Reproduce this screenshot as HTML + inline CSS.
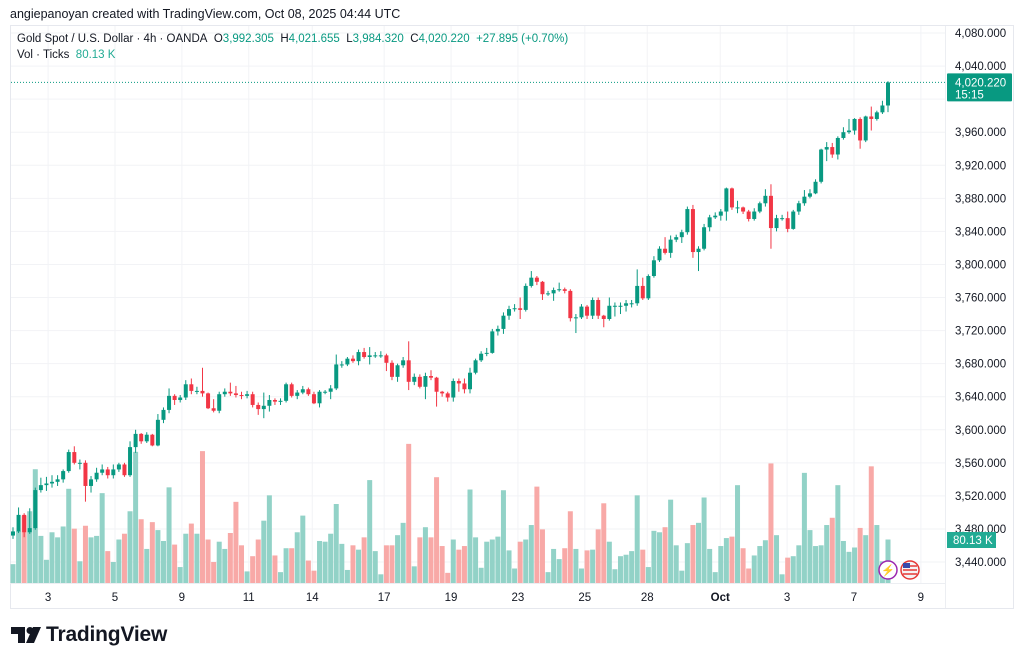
<!DOCTYPE html>
<html><head><meta charset="utf-8">
<style>
body{margin:0;background:#fff;width:1024px;height:665px;overflow:hidden;font-family:"Liberation Sans",sans-serif;}
#wrap{position:relative;width:1024px;height:665px;}
.t{position:absolute;white-space:nowrap;}
</style></head>
<body>
<div id="wrap">
<div class="t" style="left:10px;top:7px;font-size:12.5px;color:#131722;">angiepanoyan created with TradingView.com, Oct 08, 2025 04:44 UTC</div>
<svg id="chart" width="1024" height="665" style="position:absolute;left:0;top:0"></svg>
<div class="t" style="left:17px;top:33px;font-size:11.5px;color:#131722;">Gold Spot / U.S. Dollar · 4h · OANDA&nbsp; O<span style="color:#089981">3,992.305</span>&nbsp; H<span style="color:#089981">4,021.655</span>&nbsp; L<span style="color:#089981">3,984.320</span>&nbsp; C<span style="color:#089981">4,020.220</span>&nbsp; <span style="color:#089981">+27.895 (+0.70%)</span></div>
<div class="t" style="left:17px;top:49px;font-size:11.5px;color:#131722;">Vol · Ticks&nbsp; <span style="color:#22ab94">80.13 K</span></div>
<svg width="30" height="20" style="position:absolute;left:11px;top:627px">
<path d="M0 0 H14 V16 H7 V7 H0 Z" fill="#131722"/>
<circle cx="19" cy="3.5" r="3.5" fill="#131722"/>
<path d="M22 0 H30 L23 16 H15 Z" fill="#131722"/>
</svg>
<div class="t" style="left:46px;top:623px;font-size:21px;font-weight:bold;color:#131722;letter-spacing:-0.2px;">TradingView</div>
</div>
<script>
const closes=[3477,3497,3476,3481,3527,3533,3535,3537,3540,3550,3573,3560,3560,3532,3540,3548,3552,3545,3552,3558,3545,3579,3595,3586,3594,3581,3612,3624,3641,3636,3639,3655,3647,3647,3644,3626,3623,3643,3646,3644,3642,3641,3643,3630,3625,3629,3636,3634,3635,3655,3641,3645,3649,3643,3632,3646,3646,3650,3679,3679,3686,
3683,3694,3688,3690,3690,3690,3681,3664,3678,3684,3658,3664,3652,3665,3663,3646,3644,3639,3659,3656,3649,3669,3684,3692,3693,3719,3722,3738,3746,3747,3745,3774,3784,3779,3764,3765,3769,3770,3768,3735,3736,3749,3738,3757,3738,3734,3750,3750,3750,3753,3753,3774,3759,3786,3805,3819,3814,3830,3833,3839,3867,
3815,3819,3845,3857,3859,3864,3892,3869,3869,3864,3855,3864,3874,3883,3844,3856,3856,3843,3864,3874,3882,3886,3900,3939,3942,3933,3953,3960,3962,3976,3950,3979,3976,3984,3992.305,4020.22];
const firstOpen=3472;
const highs=[3482,3506,3499,3505,3530,3542,3543,3545,3545,3552,3576,3580,3564,3563,3544,3554,3558,3555,3558,3560,3560,3586,3600,3596,3597,3595,3619,3627,3650,3643,3642,3660,3662,3652,3675,3645,3637,3646,3650,3657,3653,3646,3647,3646,3633,3645,3642,3638,3638,3657,3657,3648,3653,3651,3646,3648,3648,3654,3691,3683,3688,
3690,3697,3699,3700,3694,3695,3692,3684,3680,3688,3707,3668,3667,3669,3672,3664,3647,3646,3662,3662,3662,3675,3686,3695,3699,3722,3726,3742,3750,3752,3760,3777,3792,3786,3780,3768,3772,3778,3772,3770,3740,3752,3751,3760,3760,3739,3760,3754,3754,3757,3757,3794,3784,3788,3810,3822,3833,3835,3836,3842,3870,
3872,3822,3849,3860,3863,3867,3893,3893,3877,3870,3866,3868,3876,3891,3897,3860,3860,3864,3866,3877,3890,3891,3903,3940,3948,3947,3955,3966,3976,3977,3978,3980,3991,3986,3998,4021.655];
const lows=[3468,3475,3470,3474,3479,3524,3526,3530,3532,3536,3548,3558,3552,3513,3524,3537,3545,3541,3541,3549,3543,3543,3572,3583,3584,3580,3580,3608,3620,3630,3633,3636,3643,3643,3640,3625,3621,3620,3640,3641,3639,3637,3638,3627,3618,3614,3622,3630,3630,3633,3639,3637,3643,3641,3631,3627,3643,3637,3648,3675,3677,
3681,3678,3686,3679,3687,3687,3671,3660,3658,3675,3648,3654,3650,3637,3660,3628,3640,3634,3634,3646,3644,3644,3667,3682,3689,3692,3714,3716,3733,3743,3734,3743,3772,3775,3757,3762,3756,3767,3765,3731,3717,3734,3734,3734,3734,3724,3732,3737,3740,3743,3748,3750,3757,3757,3784,3803,3812,3808,3827,3826,3836,
3808,3792,3817,3840,3855,3853,3853,3866,3862,3861,3852,3853,3862,3870,3819,3840,3853,3839,3842,3860,3871,3880,3885,3898,3925,3929,3927,3951,3958,3957,3940,3948,3962,3974,3982,3984.32];
const volumes=[26,72,93,99,157,65,32,70,63,78,130,75,30,79,63,65,124,44,29,60,68,99,181,88,47,84,73,58,132,53,22,68,82,68,182,60,29,57,47,69,112,52,16,37,60,86,121,38,15,48,48,70,93,31,17,58,57,68,109,54,18,
52,46,63,142,44,12,52,52,66,83,192,23,63,77,63,146,51,14,60,46,51,129,63,21,57,60,64,128,45,20,57,60,80,133,74,15,47,33,48,99,47,20,45,46,74,110,57,19,37,39,44,121,46,22,72,70,77,115,52,17,55,
80,83,118,47,15,51,62,64,135,48,20,38,51,59,165,66,12,35,37,52,152,73,51,52,80,90,135,58,43,49,76,66,161,80,30,60];
const priceTicks=[3440,3480,3520,3560,3600,3640,3680,3720,3760,3800,3840,3880,3920,3960,4000,4040,4080];
const timeLabels=["3","5","9","11","14","17","19","23","25","28","Oct","3","7","9"];
const timeIdx=[6.3,18.3,30.3,42.3,53.7,66.6,78.6,90.6,102.6,113.8,126.9,138.9,150.9,162.9];

const NS="http://www.w3.org/2000/svg";
const svg=document.getElementById('chart');
const X0=13, DX=(888-13)/157;
const xOf=i=>X0+i*DX;
const yOf=p=>33+(4080-p)*529/640;
const VB=583, vPx=v=>v/1.38;
function mk(tag,attrs,parent){const e=document.createElementNS(NS,tag);for(const k in attrs)e.setAttribute(k,attrs[k]);(parent||svg).appendChild(e);return e;}
const fmt=p=>p.toLocaleString('en-US',{minimumFractionDigits:3,maximumFractionDigits:3});

let fr=mk('rect',{x:10.5,y:25.5,width:1003,height:583,fill:'none',stroke:'#e6e8ee'});


priceTicks.forEach(p=>{
  const y=yOf(p);
  if(y>26&&y<582){
    const g=mk('line',{x1:11,x2:945,y1:y,y2:y,stroke:'#f2f3f6'});
    
    
  }
  if(p>=3440&&p<=4080&&Math.abs(p-4000)>1){
    const t=mk('text',{x:955,y:y+4,'font-size':11.5,fill:'#131722','font-family':'Liberation Sans, sans-serif'});
    t.textContent=fmt(p);
    
    
  }
});
timeLabels.forEach((lab,k)=>{
  const x=xOf(timeIdx[k]);
  const g=mk('line',{x1:x,x2:x,y1:26,y2:583,stroke:'#f2f3f6'});
  
  
  const t=mk('text',{x:x,y:601,'font-size':11.5,fill:'#131722','text-anchor':'middle','font-family':'Liberation Sans, sans-serif','font-weight':lab==='Oct'?'bold':'normal'});
  t.textContent=lab;
  
  
});
let ax=mk('line',{x1:945.5,x2:945.5,y1:26,y2:608,stroke:'#eceef2'});


let bx=mk('line',{x1:10,x2:945,y1:583.5,y2:583.5,stroke:'#eceef2'});



volumes.forEach((v,i)=>{
  const o=i?closes[i-1]:firstOpen, c=closes[i];
  const up=c>=o, h=vPx(v);
  const r=mk('rect',{x:xOf(i)-2.5,y:VB-h,width:5,height:h,fill:up?'#92d2c7':'#f8a9a7'});
  
  
});
closes.forEach((c,i)=>{
  const o=i?closes[i-1]:firstOpen, up=c>=o, col=up?'#089981':'#f23645';
  const x=xOf(i);
  const w=mk('line',{x1:x,x2:x,y1:yOf(highs[i]),y2:yOf(lows[i]),stroke:col,'stroke-width':1});
  
  
  const yt=yOf(Math.max(o,c)), yb=yOf(Math.min(o,c));
  const b=mk('rect',{x:x-2,y:yt,width:4,height:Math.max(1,yb-yt),fill:col});
  
  
});
const last=closes[closes.length-1], ly=yOf(last);
let pl=mk('line',{x1:11,x2:945,y1:ly,y2:ly,stroke:'#089981','stroke-dasharray':'1,2','stroke-width':1});


let pb=mk('rect',{x:947,y:ly-9,width:65,height:28,fill:'#089981',rx:1});


let pt=mk('text',{x:955,y:ly+4,'font-size':11.5,fill:'#fff','font-family':'Liberation Sans, sans-serif'});
pt.textContent=fmt(last);


let ct=mk('text',{x:955,y:ly+16,'font-size':11.5,fill:'#fff','font-family':'Liberation Sans, sans-serif'});
ct.textContent='15:15';


let vb=mk('rect',{x:947,y:532,width:49,height:16,fill:'#22ab94'});


let vt=mk('text',{x:953,y:544,'font-size':11.5,fill:'#fff','font-family':'Liberation Sans, sans-serif'});
vt.textContent='80.13 K';


let i1=mk('circle',{cx:888,cy:570,r:9,fill:'#fff',stroke:'#9c27b0','stroke-width':1.5});


let i1t=mk('text',{x:888,y:574,'font-size':11,fill:'#9c27b0','text-anchor':'middle'});
i1t.textContent='⚡';


let i2=mk('circle',{cx:910,cy:570,r:9,fill:'#f5f5f5',stroke:'#e53935','stroke-width':1.5});


[566,570,574].forEach(y=>{const s=mk('line',{x1:903,x2:917,y1:y,y2:y,stroke:'#e53935','stroke-width':1.5});

});
let fc=mk('rect',{x:903,y:563,width:7,height:5,fill:'#3949ab'});


</script>
</body></html>
